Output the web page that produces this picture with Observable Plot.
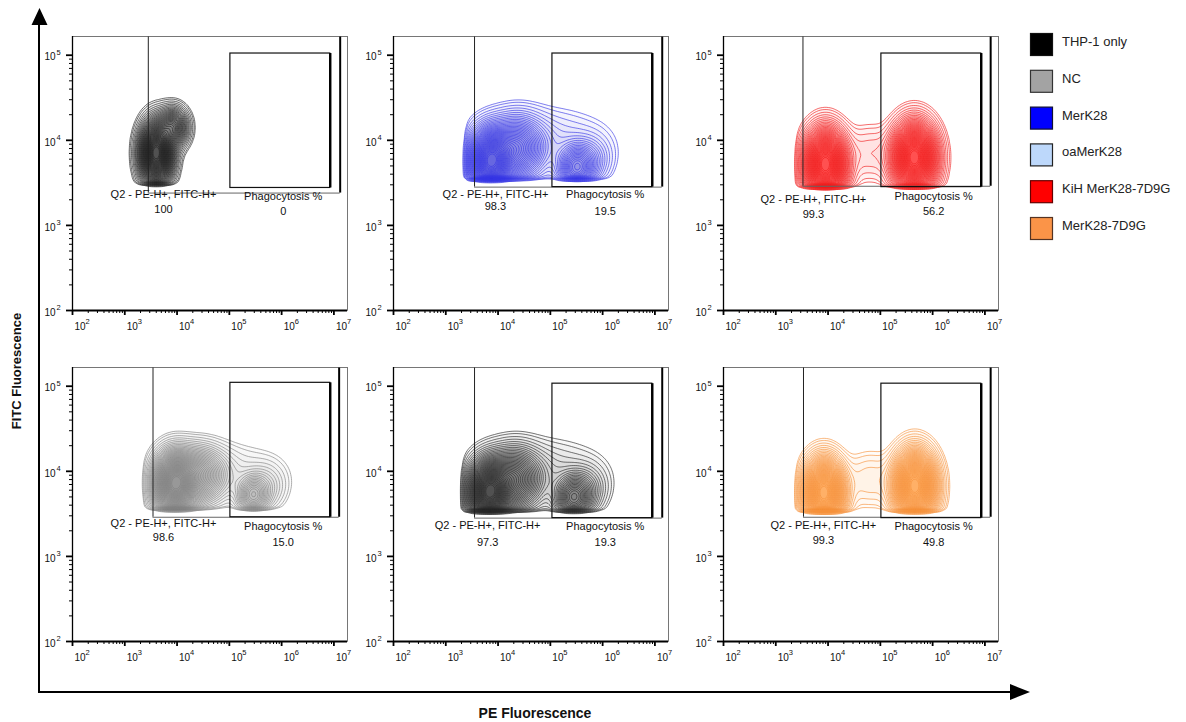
<!DOCTYPE html>
<html>
<head>
<meta charset="utf-8">
<script src="https://cdn.jsdelivr.net/npm/d3@7"></script>
<script src="https://cdn.jsdelivr.net/npm/@observablehq/plot@0.6"></script>
<style>
  html, body { margin: 0; padding: 0; background: #fff; }
  #root { position: relative; width: 1186px; height: 722px; overflow: hidden; font-family: "Liberation Sans", Arial, sans-serif; }
  .panel { position: absolute; }
  #overlay { position: absolute; left: 0; top: 0; pointer-events: none; }
</style>
</head>
<body>
<div id="root"></div>
<script>
// ---------------- data ----------------
// panels in reading order (top row then bottom row)
const panelSamples   = ["THP-1 only", "MerK28", "KiH MerK28-7D9G", "NC", "THP-1 only", "MerK28-7D9G"];
const panelColors    = ["#1c1c1c", "#3434e4", "#f01a1a", "#808080", "#262626", "#f5913a"];
const q2Values       = ["100", "98.3", "99.3", "98.6", "97.3", "99.3"];
const phagoValues    = ["0", "19.5", "56.2", "15.0", "19.3", "49.8"];

// gates (log10 units of PE / FITC)
const q2GateX        = [3.45, 3.55, 3.52, 3.54, 3.55, 3.53];
const q2GateBottom   = [3.38, 3.45, 3.46, 3.46, 3.45, 3.46];
const q2GateRight    = [7.12, 7.14, 7.11, 7.10, 7.14, 7.11];
const phagoGateX1    = [5.02, 5.04, 5.02, 5.02, 5.04, 5.02];
const phagoGateX2    = [6.93, 6.95, 6.93, 6.93, 6.95, 6.93];
const phagoGateY1    = [3.44, 3.45, 3.45, 3.46, 3.45, 3.45];
const phagoGateY2    = [5.02, 5.02, 5.02, 5.04, 5.03, 5.03];

// gate label positions (log10 units)
const q2LabelX       = [3.74, 3.95, 3.72, 3.74, 3.80, 3.91];
const q2LabelY       = [3.36, 3.36, 3.31, 3.39, 3.36, 3.36];
const q2ValueY       = [3.19, 3.22, 3.13, 3.22, 3.16, 3.19];
const phagoLabelX    = [6.03, 6.05, 6.02, 6.03, 6.05, 6.02];
const phagoLabelY    = [3.34, 3.36, 3.34, 3.35, 3.35, 3.35];
const phagoValueY    = [3.16, 3.16, 3.16, 3.16, 3.16, 3.16];

// event populations: gaussian clusters in log10 space (panel index, centre, spread, weight)
const compPanel = [0,    0,    1,    1,    1,    1,    1,    2,    2,    2,    3,    3,    3,    3,    3,    4,    4,    4,    4,    4,    5,    5,    5   ];
const compX     = [3.60, 3.92, 3.85, 4.35, 5.50, 5.80, 4.90, 3.95, 5.65, 4.80, 3.95, 4.40, 5.45, 5.72, 4.90, 3.82, 4.30, 5.44, 5.72, 4.90, 3.92, 5.66, 4.80];
const compY     = [3.85, 4.15, 3.75, 3.90, 3.68, 3.78, 4.00, 3.72, 3.80, 3.85, 3.85, 3.95, 3.72, 3.82, 4.00, 3.75, 3.90, 3.69, 3.80, 4.00, 3.75, 3.83, 3.90];
const compSX    = [0.17, 0.16, 0.22, 0.30, 0.20, 0.22, 0.70, 0.22, 0.23, 0.30, 0.22, 0.30, 0.17, 0.22, 0.65, 0.22, 0.30, 0.20, 0.22, 0.65, 0.21, 0.22, 0.30];
const compSY    = [0.20, 0.13, 0.20, 0.20, 0.15, 0.16, 0.22, 0.22, 0.22, 0.20, 0.20, 0.18, 0.13, 0.16, 0.20, 0.20, 0.20, 0.15, 0.16, 0.22, 0.21, 0.22, 0.20];
const compW     = [1.00, 0.35, 1.00, 0.45, 0.40, 0.08, 0.05, 1.00, 1.00, 0.04, 1.00, 0.40, 0.30, 0.07, 0.04, 1.00, 0.45, 0.40, 0.08, 0.05, 1.00, 1.00, 0.04];
// acquisition cut-offs (lower FITC and PE limits of the gated events)
const cutY = [3.49, 3.55, 3.46, 3.56, 3.54, 3.54];
const cutX = [2.00, 3.38, 3.38, 3.34, 3.32, 3.38];

// axes
const xMajor = [2, 3, 4, 5, 6, 7];
const yMajor = [2, 3, 4, 5];

// legend
const legendLabels  = ["THP-1 only", "NC", "MerK28", "oaMerK28", "KiH MerK28-7D9G", "MerK28-7D9G"];
const legendColors  = ["#000000", "#a3a3a3", "#0000ff", "#bdd8fb", "#ff0000", "#fb9448"];
const legendStrokes = ["#111111", "#333333", "#111133", "#222222", "#660000", "#553322"];

// ---------------- layout ----------------
const frameLeft = [72, 393, 723, 72, 393, 723];
const frameTop  = [36, 36, 36, 367, 367, 367];
const FW = 275, FH = 274;
const ML = 40, MR = 6, MT = 4, MB = 26;
const XD = [2, 7.26], YD = [2, 5.22];

const minorOf = (majors, max) => {
  const out = [];
  for (const m of majors) for (let k = 2; k <= 9; k++) {
    const v = m + Math.log10(k);
    if (v < max) out.push(v);
  }
  return out;
};
const xMinor = minorOf(xMajor, XD[1]);
const yMinor = minorOf(yMajor, YD[1]);

function makeDensity(p) {
  const idx = compPanel.map((q, i) => q === p ? i : -1).filter(i => i >= 0);
  const raw = (x, y) => {
    let s = 0;
    for (const i of idx) {
      const dx = (x - compX[i]) / compSX[i], dy = (y - compY[i]) / compSY[i];
      s += compW[i] * Math.exp(-0.5 * (dx * dx + dy * dy));
    }
    s *= 1 / (1 + Math.exp(-(y - cutY[p]) / 0.012));
    s *= 1 / (1 + Math.exp(-(x - cutX[p]) / 0.03));
    return s;
  };
  let m = 0;
  for (let x = 2; x < 7.3; x += 0.01) for (let y = 2; y < 5.2; y += 0.01) m = Math.max(m, raw(x, y));
  return (x, y) => raw(x, y) / m;
}

const N = 42;
const thresholds = d3.range(N).map(i => 0.01 + 0.96 * Math.pow(i / N, 1.45));

const root = document.getElementById("root");
const font = "'Liberation Sans', Arial, sans-serif";

for (let p = 0; p < 6; p++) {
  const gate = [{
    qx: q2GateX[p], qb: q2GateBottom[p], qr: q2GateRight[p],
    px1: phagoGateX1[p], px2: phagoGateX2[p], py1: phagoGateY1[p], py2: phagoGateY2[p],
    qlx: q2LabelX[p], qly: q2LabelY[p], qvy: q2ValueY[p],
    plx: phagoLabelX[p], ply: phagoLabelY[p], pvy: phagoValueY[p],
    qv: q2Values[p], pv: phagoValues[p]
  }];
  const chart = Plot.plot({
    width: ML + FW + MR,
    height: MT + FH + MB,
    marginLeft: ML, marginRight: MR, marginTop: MT, marginBottom: MB,
    x: {type: "linear", domain: XD, axis: null},
    y: {type: "linear", domain: YD, axis: null},
    style: {fontFamily: font, fontSize: "10px", background: "white", overflow: "visible"},
    marks: [
      Plot.contour({
        value: makeDensity(p),
        x1: XD[0], x2: XD[1], y1: YD[0], y2: YD[1],
        thresholds,
        fill: panelColors[p],
        fillOpacity: 0.032,
        stroke: panelColors[p],
        strokeWidth: 0.75,
        strokeOpacity: 0.85
      }),
      // Q2 quadrant gate
      Plot.ruleX(gate, {x: "qx", y1: "qb", y2: () => YD[1], stroke: "#222", strokeWidth: 1}),
      Plot.ruleY(gate, {y: "qb", x1: "qx", x2: "qr", stroke: "#666", strokeWidth: 1}),
      Plot.ruleX(gate, {x: "qr", y1: "qb", y2: () => YD[1], stroke: "#000", strokeWidth: 2}),
      // Phagocytosis gate
      Plot.rect(gate, {x1: "px1", x2: "px2", y1: "py1", y2: "py2", fill: "none", stroke: "#111", strokeWidth: 1.2}),
      Plot.ruleX(gate, {x: "px2", y1: "py1", y2: "py2", stroke: "#000", strokeWidth: 2.4}),
      // gate labels
      Plot.text(gate, {x: "qlx", y: "qly", text: () => "Q2 - PE-H+, FITC-H+", fontSize: 11, fill: "#111"}),
      Plot.text(gate, {x: "qlx", y: "qvy", text: "qv", fontSize: 11, fill: "#111"}),
      Plot.text(gate, {x: "plx", y: "ply", text: () => "Phagocytosis %", fontSize: 11, fill: "#111"}),
      Plot.text(gate, {x: "plx", y: "pvy", text: "pv", fontSize: 11, fill: "#111"}),
      // frame and axes
      Plot.frame({stroke: "#555", strokeWidth: 0.8}),
      Plot.ruleY([YD[0]], {stroke: "#000", strokeWidth: 1.8}),
      Plot.ruleX([XD[0]], {stroke: "#000", strokeWidth: 1.3}),
      Plot.axisX(xMajor, {anchor: "bottom", tickSize: 5, strokeWidth: 1.8, tickFormat: () => "", label: null}),
      Plot.axisX(xMinor, {anchor: "bottom", tickSize: 3, strokeWidth: 1, tickFormat: () => "", label: null}),
      Plot.axisY(yMajor, {anchor: "left", tickSize: 6, strokeWidth: 1.8, tickFormat: () => "", label: null}),
      Plot.axisY(yMinor, {anchor: "left", tickSize: 3, strokeWidth: 1, tickFormat: () => "", label: null}),
      // tick labels "10" with superscript exponent
      Plot.text(xMajor, {x: d => d, y: () => YD[0], text: () => "10", dy: 16, dx: 2, textAnchor: "start", fontSize: 10, fill: "#111", clip: false}),
      Plot.text(xMajor, {x: d => d, y: () => YD[0], text: d => String(d), dy: 11, dx: 13, textAnchor: "start", fontSize: 7.5, fill: "#111", clip: false}),
      Plot.text(yMajor, {x: () => XD[0], y: d => d, text: () => "10", dx: -17, dy: 2, textAnchor: "end", fontSize: 10, fill: "#111", clip: false}),
      Plot.text(yMajor, {x: () => XD[0], y: d => d, text: d => String(d), dx: -16, dy: -3, textAnchor: "start", fontSize: 7.5, fill: "#111", clip: false})
    ]
  });
  chart.classList.add("panel");
  chart.style.left = (frameLeft[p] - ML) + "px";
  chart.style.top = (frameTop[p] - MT) + "px";
  root.appendChild(chart);
}

// overlay: big axis arrows, axis titles and legend
const svg = d3.select(root).append("svg")
  .attr("id", "overlay").attr("width", 1186).attr("height", 722);

svg.append("line").attr("x1", 39).attr("y1", 22).attr("x2", 39).attr("y2", 692)
  .attr("stroke", "#000").attr("stroke-width", 2);
svg.append("path").attr("d", "M31.5,25 L39.5,8 L47.5,25 Z").attr("fill", "#000");
svg.append("line").attr("x1", 38).attr("y1", 692).attr("x2", 1012).attr("y2", 692)
  .attr("stroke", "#000").attr("stroke-width", 2);
svg.append("path").attr("d", "M1010,684 L1030,692 L1010,700 Z").attr("fill", "#000");

svg.append("text").attr("transform", "translate(21,371) rotate(-90)")
  .attr("text-anchor", "middle").attr("font-weight", "bold").attr("font-size", 13)
  .attr("font-family", font).attr("fill", "#111")
  .text("FITC Fluorescence");
svg.append("text").attr("x", 535).attr("y", 718)
  .attr("text-anchor", "middle").attr("font-weight", "bold").attr("font-size", 14)
  .attr("font-family", font).attr("fill", "#111")
  .text("PE Fluorescence");

const lg = svg.append("g").attr("font-family", font).attr("font-size", 13);
legendLabels.forEach((lab, i) => {
  const y = 33 + i * 36.8;
  lg.append("rect").attr("x", 1030.5).attr("y", y + 0.5).attr("width", 22).attr("height", 22)
    .attr("fill", legendColors[i]).attr("stroke", legendStrokes[i]).attr("stroke-width", 1.2);
  lg.append("text").attr("x", 1062).attr("y", y + 13).attr("fill", "#222").text(lab);
});
</script>
</body>
</html>
